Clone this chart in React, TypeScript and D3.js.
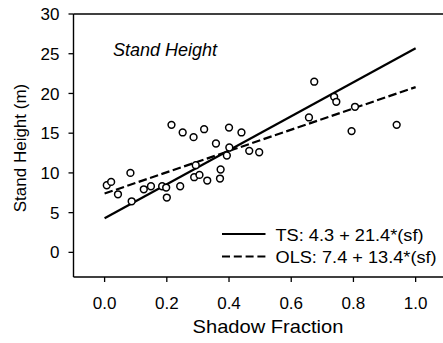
import React from "react";
import * as d3 from "d3";

const shadowFraction = [0.007, 0.021, 0.043, 0.083, 0.087, 0.126, 0.149, 0.185, 0.198, 0.2, 0.243, 0.288, 0.305, 0.33, 0.293, 0.371, 0.373, 0.358, 0.393, 0.401, 0.465, 0.497, 0.215, 0.251, 0.286, 0.32, 0.4, 0.44, 0.674, 0.738, 0.745, 0.657, 0.805, 0.794, 0.939];
const standHeight = [8.45, 8.87, 7.31, 10.0, 6.43, 7.94, 8.32, 8.32, 8.16, 6.9, 8.32, 9.46, 9.75, 9.04, 10.97, 9.29, 10.43, 13.7, 12.19, 13.2, 12.78, 12.6, 16.05, 15.09, 14.5, 15.5, 15.7, 15.09, 21.48, 19.58, 18.95, 16.98, 18.32, 15.26, 16.05];

const xTicks = [0, 0.2, 0.4, 0.6, 0.8, 1.0];
const yTicks = [0, 5, 10, 15, 20, 25, 30];

const fits = [
  { label: "TS: 4.3 + 21.4*(sf)", intercept: 4.3, slope: 21.4, dash: "none" },
  { label: "OLS: 7.4 + 13.4*(sf)", intercept: 7.4, slope: 13.4, dash: "8.5,3.5" },
];
const fitRange = [0, 1];

const FONT = "'Liberation Sans', Arial, sans-serif";

export default function App() {
  const W = 443, H = 343;
  const x = d3.scaleLinear().domain([-0.1, 1.15]).range([73.5, 462.3]);
  const y = d3.scaleLinear().domain([-3.1, 30]).range([277, 14]);
  const line = d3.line<number>().x((d) => x(d));

  return (
    <svg width={W} height={H} style={{ position: "absolute", left: 0, top: 0, background: "#fff" }} fontFamily={FONT}>
      {/* axes frame */}
      <line x1={x(-0.1)} x2={x(-0.1)} y1={y(30)} y2={y(-3.1)} stroke="#000" strokeWidth={1.4} />
      <line x1={x(-0.1)} x2={W} y1={y(30)} y2={y(30)} stroke="#000" strokeWidth={1.4} />
      <line x1={x(-0.1)} x2={W} y1={y(-3.1)} y2={y(-3.1)} stroke="#000" strokeWidth={1.4} />
      {yTicks.map((t) => (
        <g key={"y" + t}>
          <line x1={x(-0.1) - 5} x2={x(-0.1)} y1={y(t)} y2={y(t)} stroke="#000" strokeWidth={1.3} />
          <text x={59.5} y={y(t)} dy="0.36em" textAnchor="end" fontSize={17} fill="#000">{t}</text>
        </g>
      ))}
      {xTicks.map((t) => (
        <g key={"x" + t}>
          <line x1={x(t)} x2={x(t)} y1={y(-3.1)} y2={y(-3.1) + 5} stroke="#000" strokeWidth={1.3} />
          <text x={x(t)} y={309} textAnchor="middle" fontSize={17} fill="#000">{t.toFixed(1)}</text>
        </g>
      ))}
      <text transform={`translate(268,333) scale(1.15,1)`} textAnchor="middle" fontSize={17.5} fill="#000">Shadow Fraction</text>
      <text transform={`translate(26,148) rotate(-90)`} textAnchor="middle" fontSize={17} fill="#000">Stand Height (m)</text>
      <text x={113} y={56} fontSize={18} fontStyle="italic" fill="#000">Stand Height</text>

      {/* fit lines */}
      {fits.map((f) => (
        <path key={f.label}
          d={line.y((d) => y(f.intercept + f.slope * d))(fitRange) || ""}
          fill="none" stroke="#000" strokeWidth={2.2} strokeDasharray={f.dash} />
      ))}

      {/* points */}
      {shadowFraction.map((sf, i) => (
        <circle key={i} cx={x(sf)} cy={y(standHeight[i])} r={3.4} fill="#fff" stroke="#000" strokeWidth={1.5} />
      ))}

      {/* legend */}
      {fits.map((f, i) => (
        <g key={"lg" + i}>
          <line x1={222} x2={265.5} y1={234 + i * 22.5} y2={234 + i * 22.5} stroke="#000" strokeWidth={2.2} strokeDasharray={f.dash === "none" ? "none" : "8,3.8"} />
          <text transform={`translate(275.5,${240.5 + i * 22.5}) scale(1.07,1)`} fontSize={17} fill="#000">{f.label}</text>
        </g>
      ))}
    </svg>
  );
}
